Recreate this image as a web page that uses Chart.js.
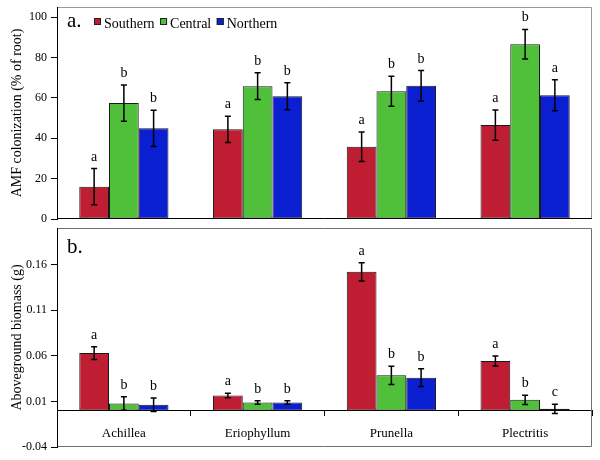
<!DOCTYPE html>
<html>
<head>
<meta charset="utf-8">
<script src="https://cdn.jsdelivr.net/npm/chart.js@4"></script>
<style>
body { margin: 0; background: #fff; }
#wrap { position: relative; width: 600px; height: 460px; }
canvas { position: absolute; left: 0; }
#topChart { top: 0; }
#bottomChart { top: 220px; }
</style>
</head>
<body>
<div id="wrap">
  <canvas id="topChart" width="600" height="226"></canvas>
  <canvas id="bottomChart" width="600" height="240"></canvas>
</div>
<script>
const species = ["Achillea", "Eriophyllum", "Prunella", "Plectritis"];
const regions = ["Southern", "Central", "Northern"];
const colors = ["#bf1e32", "#50c03a", "#0a1ed2"];

// a. AMF colonization (% of root)
const amfSouthern = [16, 44.4, 35.8, 46.5];
const amfCentral = [57.4, 65.8, 63.3, 86.6];
const amfNorthern = [44.9, 60.8, 66, 61.3];
const amfErrSouthern = [9, 6.5, 7.3, 7.5];
const amfErrCentral = [9, 6.6, 7.4, 7.3];
const amfErrNorthern = [9, 6.7, 7.5, 7.7];
const amfLetSouthern = ["a", "a", "a", "a"];
const amfLetCentral = ["b", "b", "b", "b"];
const amfLetNorthern = ["b", "b", "b", "a"];
const amfTicks = [0, 20, 40, 60, 80, 100];

// b. Aboveground biomass (g)
const bioSouthern = [0.063, 0.0165, 0.152, 0.0542];
const bioCentral = [0.0077, 0.0088, 0.0385, 0.0117];
const bioNorthern = [0.0062, 0.0088, 0.036, 0.0018];
const bioErrSouthern = [0.007, 0.0025, 0.01, 0.0055];
const bioErrCentral = [0.0073, 0.002, 0.01, 0.005];
const bioErrNorthern = [0.0074, 0.002, 0.0098, 0.005];
const bioLetSouthern = ["a", "a", "a", "a"];
const bioLetCentral = ["b", "b", "b", "b"];
const bioLetNorthern = ["b", "b", "b", "c"];
const bioTicks = [-0.04, 0.01, 0.06, 0.11, 0.16];

const serif = "'Liberation Serif', 'Times New Roman', serif";

function makeSets(vals, errs, lets) {
  return regions.map((r, i) => ({
    label: r,
    data: vals[i],
    errors: errs[i],
    letters: lets[i],
    backgroundColor: colors[i],
    borderColor: "#1a1a1a",
    borderWidth: 1,
    borderSkipped: false,
    categoryPercentage: 0.667,
    barPercentage: 1.0
  }));
}

// error bars, letters, frame, panel label and legend
const panelPlugin = {
  id: "panel",
  afterDatasetsDraw(chart, args, opts) {
    const ctx = chart.ctx;
    const y = chart.scales.y;
    ctx.save();
    chart.data.datasets.forEach((ds, i) => {
      const meta = chart.getDatasetMeta(i);
      meta.data.forEach((bar, j) => {
        const v = ds.data[j];
        const e = ds.errors[j];
        const top = y.getPixelForValue(v + e);
        const bot = y.getPixelForValue(v - e);
        ctx.strokeStyle = "#000";
        ctx.lineWidth = 1.5;
        ctx.beginPath();
        ctx.moveTo(bar.x, top);
        ctx.lineTo(bar.x, bot);
        ctx.moveTo(bar.x - 3, top);
        ctx.lineTo(bar.x + 3, top);
        ctx.moveTo(bar.x - 3, bot);
        ctx.lineTo(bar.x + 3, bot);
        ctx.stroke();
        ctx.fillStyle = "#000";
        ctx.font = "14px " + serif;
        ctx.textAlign = "center";
        ctx.textBaseline = "alphabetic";
        ctx.fillText(ds.letters[j], bar.x, top - 8);
      });
    });
    ctx.restore();
  },
  afterDraw(chart, args, opts) {
    const ctx = chart.ctx;
    const a = chart.chartArea;
    ctx.save();
    ctx.lineWidth = 1;
    ctx.strokeStyle = opts.frameColor;
    ctx.beginPath();
    ctx.moveTo(a.left, a.top + 0.5);
    ctx.lineTo(a.right - 0.5, a.top + 0.5);
    ctx.lineTo(a.right - 0.5, a.bottom - 0.5);
    ctx.lineTo(a.left, a.bottom - 0.5);
    ctx.stroke();
    ctx.strokeStyle = "#000";
    ctx.beginPath();
    ctx.moveTo(a.left + 0.5, a.top);
    ctx.lineTo(a.left + 0.5, a.bottom);
    if (opts.blackBottom) {
      ctx.moveTo(a.left, a.bottom - 0.5);
      ctx.lineTo(a.right, a.bottom - 0.5);
    }
    ctx.stroke();

    ctx.fillStyle = "#000";
    ctx.textAlign = "left";
    ctx.textBaseline = "alphabetic";
    ctx.font = "21px " + serif;
    ctx.fillText(opts.label, a.left + 10, a.top + opts.labelDy);

    if (opts.legend) {
      ctx.font = "14px " + serif;
      let x = a.left + 37;
      const by = a.top + 11;
      chart.data.datasets.forEach((ds) => {
        ctx.fillStyle = ds.backgroundColor;
        ctx.fillRect(x, by, 7, 7);
        ctx.strokeStyle = "#222";
        ctx.strokeRect(x + 0.5, by + 0.5, 6, 6);
        ctx.fillStyle = "#000";
        ctx.fillText(ds.label, x + 10, a.top + 21);
        x += 10 + ctx.measureText(ds.label).width + 5.5;
      });
    }
    ctx.restore();
  }
};

// fixed axis width, and no extra room for the end tick labels
function fixWidth(axis) {
  axis.width = 57;
  axis.paddingTop = 0;
  axis.paddingBottom = 0;
}

const topChart = new Chart(document.getElementById("topChart"), {
  type: "bar",
  data: {
    labels: species,
    datasets: makeSets(
      [amfSouthern, amfCentral, amfNorthern],
      [amfErrSouthern, amfErrCentral, amfErrNorthern],
      [amfLetSouthern, amfLetCentral, amfLetNorthern]
    )
  },
  options: {
    responsive: false,
    animation: false,
    devicePixelRatio: 1,
    layout: { padding: { left: 0, right: 8, top: 7, bottom: 7 } },
    plugins: {
      legend: { display: false },
      tooltip: { enabled: false },
      panel: { label: "a.", labelDy: 20, legend: true, frameColor: "#9a9a9a", blackBottom: true }
    },
    scales: {
      x: { display: false },
      y: {
        min: 0,
        max: 105,
        afterBuildTicks: (axis) => { axis.ticks = amfTicks.map((v) => ({ value: v })); },
        afterFit: fixWidth,
        grid: { drawOnChartArea: false, tickLength: 6, color: "#000" },
        border: { color: "#000" },
        ticks: { color: "#000", padding: 4, font: { family: serif, size: 12 } },
        title: {
          display: true,
          text: "AMF colonization (% of root)",
          color: "#000",
          padding: { top: 9, bottom: 0 },
          font: { family: serif, size: 14 }
        }
      }
    }
  },
  plugins: [panelPlugin]
});

const bottomChart = new Chart(document.getElementById("bottomChart"), {
  type: "bar",
  data: {
    labels: species,
    datasets: makeSets(
      [bioSouthern, bioCentral, bioNorthern],
      [bioErrSouthern, bioErrCentral, bioErrNorthern],
      [bioLetSouthern, bioLetCentral, bioLetNorthern]
    )
  },
  options: {
    responsive: false,
    animation: false,
    devicePixelRatio: 1,
    layout: { padding: { left: 0, right: 8, top: 8, bottom: 13 } },
    plugins: {
      legend: { display: false },
      tooltip: { enabled: false },
      panel: { label: "b.", labelDy: 25, legend: false, frameColor: "#707070", blackBottom: false }
    },
    scales: {
      x: {
        position: { y: 0 },
        grid: { drawOnChartArea: false, tickLength: 5, color: "#000", offset: true },
        border: { color: "#000" },
        ticks: { color: "#000", padding: 10, font: { family: serif, size: 13 } }
      },
      y: {
        min: -0.04,
        max: 0.2,
        afterBuildTicks: (axis) => { axis.ticks = bioTicks.map((v) => ({ value: v })); },
        afterFit: fixWidth,
        grid: { drawOnChartArea: false, tickLength: 6, color: "#000" },
        border: { color: "#000" },
        ticks: {
          color: "#000",
          padding: 4,
          font: { family: serif, size: 12 },
          callback: (v) => v.toFixed(2)
        },
        title: {
          display: true,
          text: "Aboveground biomass (g)",
          color: "#000",
          padding: { top: 9, bottom: 0 },
          font: { family: serif, size: 14 }
        }
      }
    }
  },
  plugins: [panelPlugin]
});
</script>
</body>
</html>
